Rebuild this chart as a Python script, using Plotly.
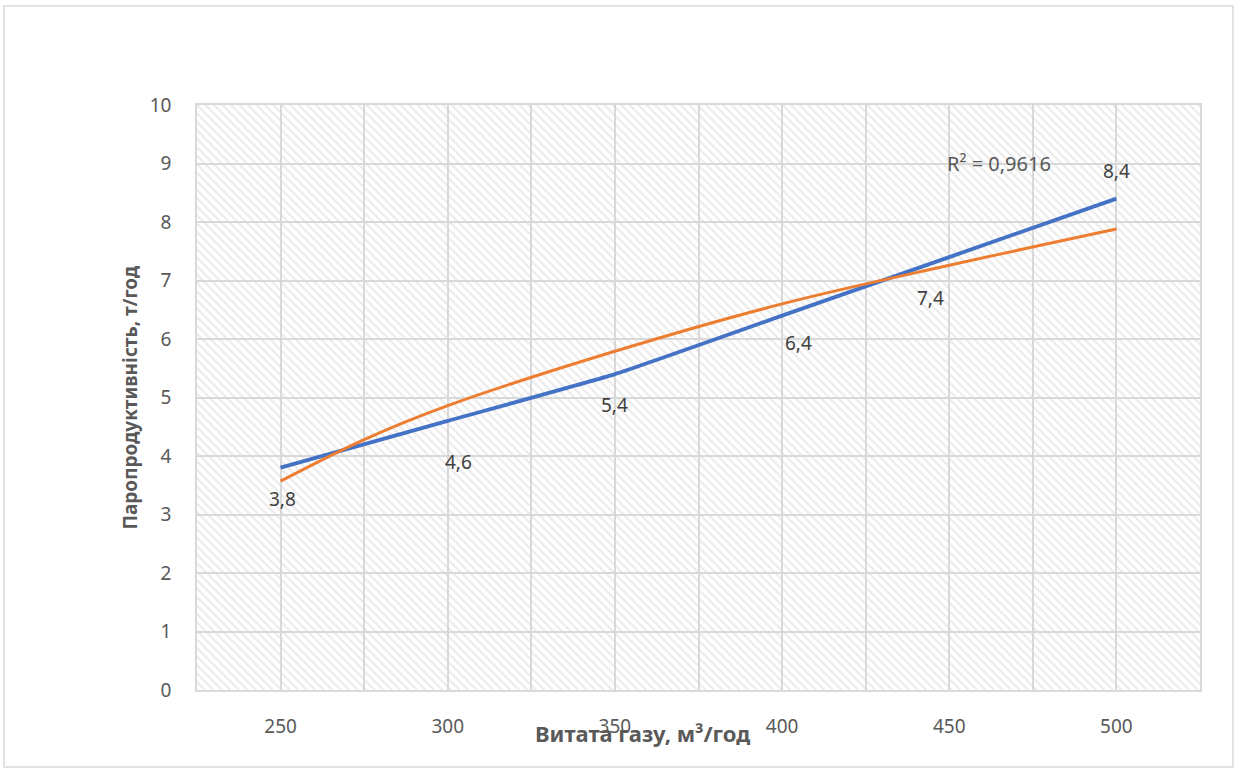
import plotly.graph_objects as go

# Data
x_vals = [250, 300, 350, 400, 450, 500]
y_vals = [3.8, 4.6, 5.4, 6.4, 7.4, 8.4]
labels = ["3,8", "4,6", "5,4", "6,4", "7,4", "8,4"]
# trend line values
trend_x = [250, 275, 300, 350, 400, 450, 500]
trend_y = [3.57, 4.28, 4.86, 5.79, 6.6, 7.26, 7.88]
r2_text = "R² = 0,9616"
x_ticks = [250, 300, 350, 400, 450, 500]
y_ticks = list(range(0, 11))

# label offsets in pixels (xshift, yshift)
label_offsets = [(2, -31), (11, -41), (0, -31), (16, -27), (-19, -41), (0, 28)]

X_MIN, X_MAX = 225, 525
Y_MIN, Y_MAX = 0, 10

FONT = "Noto Sans"
GREY = "#595959"
GRID = "#d9d9d9"

fig = go.Figure()

# hatched plot background
fig.add_trace(go.Scatter(
    x=[X_MIN, X_MAX, X_MAX, X_MIN, X_MIN],
    y=[Y_MIN, Y_MIN, Y_MAX, Y_MAX, Y_MIN],
    mode="none", fill="toself", fillcolor="rgba(0,0,0,0)",
    fillpattern=dict(shape="\\", size=6, solidity=0.35, fgcolor="#d6d6d6", bgcolor="rgba(255,255,255,0)"),
    hoverinfo="skip", showlegend=False,
))

fig.add_trace(go.Scatter(
    x=x_vals, y=y_vals, mode="lines",
    line=dict(color="#4472C4", width=3.8, shape="spline", smoothing=0.4),
    showlegend=False,
))

fig.add_trace(go.Scatter(
    x=trend_x, y=trend_y, mode="lines",
    line=dict(color="#ED7D31", width=3, shape="spline", smoothing=1.0),
    showlegend=False,
))

annotations = []
for xv, yv, lab, (dx, dy) in zip(x_vals, y_vals, labels, label_offsets):
    annotations.append(dict(x=xv, y=yv, text=lab, showarrow=False, xshift=dx, yshift=dy,
                            font=dict(family=FONT, size=19, color="#404040")))
annotations.append(dict(x=465, y=9.0, text=r2_text, showarrow=False,
                        font=dict(family=FONT, size=20, color=GREY)))
annotations.append(dict(xref="paper", yref="paper", x=0.4437, y=-0.0735, xanchor="center", yanchor="middle",
                        text="<b>Витата газу, м³/год</b>",
                        showarrow=False, font=dict(family=FONT, size=22, color=GREY)))
annotations.append(dict(xref="paper", yref="paper", x=-0.0668, y=0.5, xanchor="center", yanchor="middle",
                        text="<b>Паропродуктивність, т/год</b>",
                        textangle=-90, showarrow=False, font=dict(family=FONT, size=19, color=GREY)))

fig.update_layout(
    width=1238, height=771,
    margin=dict(l=197, r=38, t=105, b=81),
    paper_bgcolor="white", plot_bgcolor="white",
    font=dict(family=FONT, size=19, color=GREY),
    annotations=annotations,
    shapes=[dict(type="rect", xref="paper", yref="paper", x0=-0.1924, x1=1.0329, y0=-0.1316, y1=1.1692,
                 line=dict(color=GRID, width=1.5), fillcolor="rgba(0,0,0,0)", layer="below")],
    xaxis=dict(range=[X_MIN, X_MAX], tickvals=x_ticks, ticktext=[str(v) for v in x_ticks],
               showgrid=True, gridcolor=GRID, gridwidth=1.5,
               minor=dict(dtick=25, tick0=225, showgrid=True, gridcolor=GRID, gridwidth=1.5),
               showline=True, linecolor=GRID, linewidth=1.5, mirror=True,
               ticks="", ticklabelstandoff=18, zeroline=False,
               tickfont=dict(family=FONT, size=19, color=GREY)),
    yaxis=dict(range=[Y_MIN, Y_MAX], tickvals=y_ticks,
               showgrid=True, gridcolor=GRID, gridwidth=1.5,
               showline=True, linecolor=GRID, linewidth=1.5, mirror=True,
               ticks="", ticklabelstandoff=20, zeroline=False,
               tickfont=dict(family=FONT, size=19, color=GREY)),
)

fig.write_html("out.html")
